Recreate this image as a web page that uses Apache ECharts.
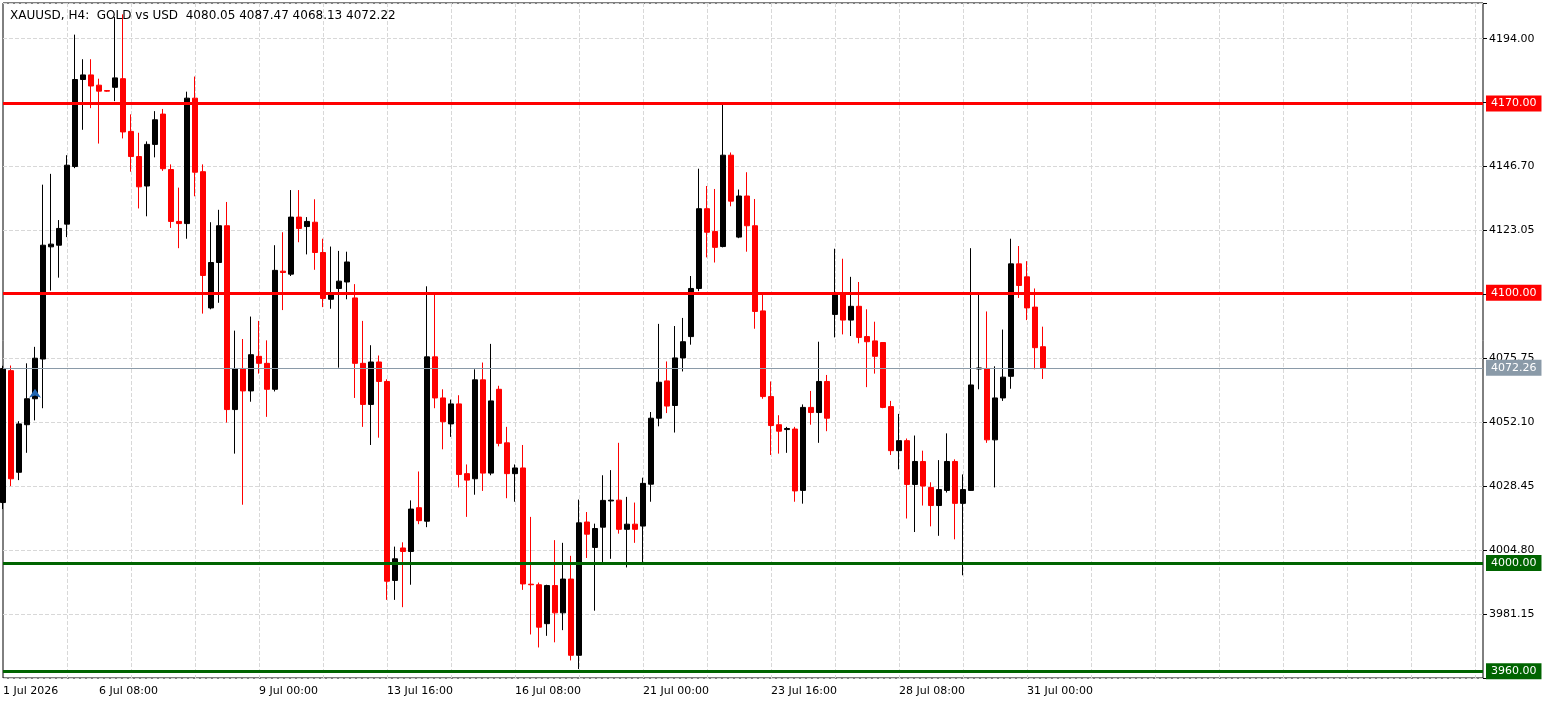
<!DOCTYPE html>
<html>
<head>
<meta charset="utf-8">
<script src="https://cdn.jsdelivr.net/npm/echarts@6/dist/echarts.min.js"></script>
<style>
html,body{margin:0;padding:0;background:#fff;}
#chart{width:1563px;height:706px;}
</style>
</head>
<body>
<div id="chart"></div>
<script>
// H4 candles
var opens  = [4022.4,4071.2,4033.6,4051.2,4060.8,4075.5,4117,4117.6,4125.4,4146.7,4178.9,4180.6,4176.8,4174.8,4176,4179.2,4159.7,4150.4,4139.5,4154.9,
              4166.1,4145.6,4126.4,4125.6,4172,4144.8,4094.4,4111.2,4124.8,4056.8,4072,4063.7,4076.5,4073.9,4064.3,4108,4106.9,4128,4124.5,4126.1,
              4114.9,4097.6,4101.6,4104,4098.1,4073.9,4058.7,4074.4,4067.2,3993.6,4005.6,4004.3,4020.5,4015.5,4076.3,4061.1,4051.5,4058.9,4033.1,4031.2,
              4067.8,4033.3,4064.3,4044.5,4033.1,4035.2,3992.2,3992,3977.6,3991.7,3981.6,3994.1,3965.9,4015.2,4005.8,4013.3,4023,4023.3,4012.5,4014.4,
              4013.7,4029.2,4053.6,4067.4,4058.3,4075.9,4083.8,4101.6,4131.1,4122.7,4117.1,4150.9,4120.6,4135.8,4124.8,4093.3,4061.6,4051.2,4049.4,4049.6,
              4026.9,4057.6,4055.7,4067.2,4092,4099.2,4089.9,4095,4083.8,4082.2,4081.6,4057.9,4041.6,4045.3,4029.1,4037.6,4028,4021.3,4026.9,4037.6,
              4022.1,4026.9,4071.8,4072,4045.6,4061.1,4069.1,4110.7,4105.9,4094.7,4080.05];
var highs  = [4073,4073.1,4052.5,4073.9,4080,4140,4144,4126.9,4150.9,4195.5,4186.4,4186.4,4179.2,4175,4202,4203,4166,4159.2,4156,4167.2,
              4168,4147.5,4138.9,4174.4,4180,4147.5,4126.1,4130.7,4133.6,4086,4082.9,4091.2,4089.6,4082.4,4117.6,4122.4,4138,4138,4128,4134.6,
              4120,4117.1,4115.5,4115.2,4103.2,4089.6,4080.6,4076.8,4068,4006.1,4007.7,4023.2,4033.9,4102.4,4099.5,4064.3,4060.5,4062.1,4036.5,4071.7,
              4074.2,4081.1,4065.6,4050.4,4036.5,4043.7,4017.1,3992.8,3992,4008.5,4007.5,4002.7,4023.5,4018.9,4014.6,4032.5,4034.4,4044.5,4024.5,4022.4,
              4031.6,4055.9,4088.5,4074.6,4087.7,4090.7,4106.2,4145.9,4139.5,4138.4,4170,4151.9,4138.2,4144.6,4134.7,4099.2,4067.2,4054.7,4050.4,4050.4,
              4058.7,4063.7,4081.9,4069.6,4116.3,4112.6,4105.9,4104,4093.9,4089.3,4081.6,4060,4055.2,4046.1,4047.2,4041.6,4029.9,4038.1,4048,4038.4,
              4032.8,4116.5,4099.5,4093.1,4072.8,4086.4,4120,4117.3,4111.7,4101.6,4087.47];
var lows   = [4020,4028.5,4030.7,4040.8,4052.8,4057.3,4100.8,4105.6,4120.6,4146.1,4160.3,4168.3,4155.2,4174.4,4170.9,4157.1,4144.8,4131.2,4128.3,4150.1,
              4145.1,4124,4116.5,4120,4135.7,4092.3,4093.9,4096.3,4052,4040.5,4021.6,4059.7,4070.1,4054.1,4063.5,4093.6,4106.2,4118.7,4114.2,4108.5,
              4094.7,4094.1,4072.3,4097.6,4061.1,4050.4,4043.7,4046.4,3986.4,3986.4,3983.7,3992,4014.4,4013.3,4057.3,4042.1,4046.7,4028,4017.1,4025.3,
              4026.7,4032.5,4043.2,4024,4022.7,3990.1,3973.6,3968.8,3973.1,3970.7,3975.2,3964,3960.8,4001.9,3982.4,3999.7,4001.6,4010.9,3998.4,4007.5,
              4000,4022.7,4050.6,4055.5,4048.3,4070.9,4080.8,4100.6,4113.1,4111.2,4116.8,4132,4120.2,4115.2,4086.7,4060.8,4040,4040.5,4040.8,4022.7,
              4022,4051.2,4044.5,4048.8,4083.5,4084.6,4084,4081.3,4065.1,4070.1,4057.3,4040,4034.7,4016.5,4011.5,4021.3,4013.6,4010.1,4026.1,4008.8,
              3995.5,4026.7,4064.3,4044.5,4028,4060,4064.5,4098.1,4089.9,4071.7,4068.13];
var closes = [4072,4031.2,4051.5,4060.8,4075.8,4117.6,4118,4123.8,4147.2,4178.9,4180.6,4176.5,4174.6,4174.6,4179.5,4159.5,4150.4,4139.2,4154.9,4164,
              4145.9,4126.4,4125.6,4172,4144.6,4106.4,4111.2,4124.8,4056.8,4072,4063.7,4077.1,4073.9,4064.3,4108.3,4107.5,4128,4123.8,4126.4,4114.9,
              4097.9,4099.2,4104.3,4111.4,4073.9,4058.7,4074.4,4067.2,3993.3,4001.6,4004.3,4020,4015.7,4076.3,4061.1,4052.3,4058.9,4032.8,4030.7,4067.8,
              4033.3,4060,4044.3,4033.1,4035.2,3992.3,3992,3976.3,3991.7,3981.6,3994.1,3965.9,4014.9,4010.7,4012.8,4023.2,4023.3,4012.5,4014.4,4012.5,
              4029.5,4053.6,4066.9,4058.1,4075.9,4081.9,4101.6,4131.1,4122.4,4116.8,4150.9,4133.9,4135.8,4124.8,4093.1,4061.6,4050.9,4048.8,4049.8,4026.7,
              4057.6,4055.7,4067.2,4053.6,4099.2,4089.9,4095,4083.5,4081.9,4076.5,4057.6,4041.6,4045.3,4029.1,4037.6,4028.5,4021.3,4027.2,4037.6,4022.1,
              4027.2,4065.9,4072.2,4045.6,4061.1,4068.8,4110.7,4102.7,4094.4,4079.7,4072.22];
var totalSlots = 186;
var dateLabels = {0:'1 Jul 2026',12:'6 Jul 08:00',32:'9 Jul 00:00',48:'13 Jul 16:00',64:'16 Jul 08:00',
                  80:'21 Jul 00:00',96:'23 Jul 16:00',112:'28 Jul 08:00',128:'31 Jul 00:00'};
var resistLevels = [4170, 4100];
var supportLevels = [4000, 3960];
var lastPrice = 4072.26;
var yMin = 3957.5, yMax = 4207.2, yStep = 23.65;

var cats = [];
for (var i = 0; i < totalSlots; i++) cats.push(String(i));
var ohlc = [];
for (var i = 0; i < opens.length; i++) ohlc.push([opens[i], closes[i], lows[i], highs[i]]);

var tagLines = [];
resistLevels.forEach(function(v){ tagLines.push({yAxis:v, lineStyle:{color:'#ff0000',width:3,type:'solid'},
  label:{backgroundColor:'#ff0000',color:'#fff'}}); });
supportLevels.forEach(function(v){ tagLines.push({yAxis:v, lineStyle:{color:'#006400',width:3,type:'solid'},
  label:{backgroundColor:'#006400',color:'#fff'}}); });
tagLines.push({yAxis:lastPrice, lineStyle:{color:'#8a9aa8',width:1,type:'solid'},
  label:{backgroundColor:'#8a9aa8',color:'#fff'}});

var myChart = echarts.init(document.getElementById('chart'));
var option = {
	animation: false,
	backgroundColor: '#fff',
	title: {
		text: 'XAUUSD, H4:  GOLD vs USD  4080.05 4087.47 4068.13 4072.22',
		left: 5, top: 5,
		textStyle: {fontFamily: 'DejaVu Sans', fontSize: 12, fontWeight: 'normal', color: '#000'}
	},
	grid: {left: 3, right: 80, top: 3, bottom: 28, show: true, borderColor: '#000', borderWidth: 1},
	xAxis: {
		type: 'category', data: cats, boundaryGap: false,
		axisLine: {show: false}, axisTick: {show: false},
		axisLabel: {
			interval: function(idx){ return dateLabels[idx] !== undefined; },
			formatter: function(v){ return dateLabels[+v] || ''; },
			align: 'left', color: '#000', fontFamily: 'DejaVu Sans', fontSize: 11, margin: 8
		},
		splitLine: {show: true, interval: function(idx){ return idx % 8 === 0 && idx > 0; },
			lineStyle: {color: '#d8d8d8', type: 'dashed'}}
	},
	yAxis: {
		type: 'value', position: 'right', min: yMin, max: yMax, interval: yStep, scale: true,
		axisLine: {show: false}, axisTick: {show: true, length: 4, lineStyle: {color: '#000'}},
		axisLabel: {
			formatter: function(v){ return (v > 4200 || v < 3958) ? '' : v.toFixed(2); },
			color: '#000', fontFamily: 'DejaVu Sans', fontSize: 11, margin: 6
		},
		splitLine: {show: true, lineStyle: {color: '#d8d8d8', type: 'dashed'}}
	},
	series: [{
		type: 'candlestick',
		data: ohlc,
		barWidth: 5,
		itemStyle: {color: '#000', color0: '#ff0000', borderColor: '#000', borderColor0: '#ff0000', borderWidth: 1},
		markLine: {
			symbol: ['none','none'], silent: true, animation: false,
			label: {position: 'end', distance: 3, fontFamily: 'DejaVu Sans', fontSize: 11, padding: [3,5,2,5],
				formatter: function(p){ return p.value.toFixed(2); }},
			data: tagLines
		},
		markPoint: {
			symbol: 'arrow', symbolSize: [9, 9], silent: true,
			itemStyle: {color: '#1f64b0'}, label: {show: false},
			data: [{coord: ['4', 4064.5]}]
		}
	}]
};
myChart.setOption(option);
window.addEventListener("resize", function() {
	myChart.resize();
});
</script>
</body>
</html>
